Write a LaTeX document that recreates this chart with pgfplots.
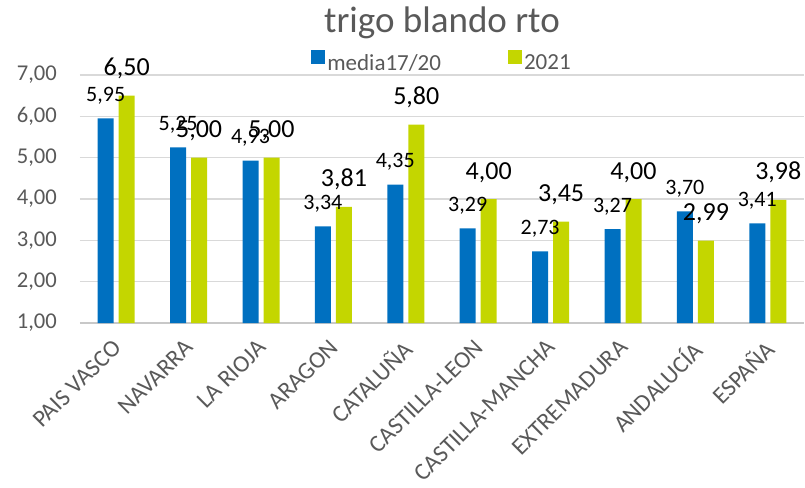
\documentclass[border=0pt]{standalone}
\usepackage{fontspec}
\setmainfont{Carlito}
\usepackage{pgfplots}
\pgfplotsset{compat=1.18}
\definecolor{cblue}{RGB}{0,112,192}
\definecolor{cgreen}{RGB}{196,214,0}
\definecolor{ctext}{RGB}{89,89,89}
\definecolor{cgrid}{RGB}{217,217,217}
\definecolor{caxis}{RGB}{200,200,200}
\begin{document}
\begin{tikzpicture}
\begin{axis}[
  scale only axis, width=724pt, height=248pt,
  xmin=-0.5, xmax=9.5, ymin=1, ymax=7,
  ytick={1,2,3,4,5,6,7},
  xtick={0,...,9},
  xticklabels={PAIS VASCO, NAVARRA, LA RIOJA, ARAGON, CATALUÑA, CASTILLA-LEON, CASTILLA-MANCHA, EXTREMADURA, ANDALUCÍA, ESPAÑA},
  x tick label style={rotate=45, anchor=north east, font=\fontsize{24}{28}\selectfont, text=ctext, inner sep=0pt, xshift=-14pt, yshift=-7pt},
  y tick label style={anchor=east, font=\fontsize{22.6}{27}\selectfont, text=ctext, inner sep=0pt, xshift=-23pt},
  /pgf/number format/fixed,
  /pgf/number format/fixed zerofill,
  /pgf/number format/precision=2,
  /pgf/number format/use comma,
  /pgf/number format/assume math mode=true,
  major tick length=0pt,
  axis x line=bottom, axis y line=left,
  x axis line style={-, draw=caxis, line width=1.3pt},
  y axis line style={draw=none},
  ymajorgrids, grid style={cgrid, line width=1.3pt},
  ybar, bar width=16pt,
  title={trigo blando rto},
  title style={font=\fontsize{37}{44}\selectfont, text=ctext, at={(0.5,1)}, anchor=base, yshift=36pt, inner sep=0pt},
  legend style={at={(0.5,1)}, anchor=south, yshift=1pt, draw=none, fill=none, font=\fontsize{23}{27}\selectfont, text=ctext, inner sep=0pt, /tikz/every even column/.append style={column sep=65pt}},
  legend columns=2,
  nodes near coords, point meta=y,
  clip=false,
]
\addplot[fill=cblue, draw=none, bar shift=-10.5pt,
  every node near coord/.append style={font=\fontsize{22}{26}\selectfont, text=black, anchor=base, yshift=17pt, inner sep=0pt},
  legend image code/.code={\fill[cblue] (0pt,-1pt) rectangle (14pt,13pt);}]
  coordinates {(0,5.95) (1,5.25) (2,4.93) (3,3.34) (4,4.35) (5,3.29) (6,2.73) (7,3.27) (8,3.70) (9,3.41)};
\addlegendentry{media17/20}
\addplot[fill=cgreen, draw=none, bar shift=10.5pt,
  every node near coord/.append style={font=\fontsize{26}{30}\selectfont, text=black, anchor=base, yshift=20pt, inner sep=0pt},
  legend image code/.code={\fill[cgreen] (0pt,-1pt) rectangle (14pt,13pt);}]
  coordinates {(0,6.50) (1,5.00) (2,5.00) (3,3.81) (4,5.80) (5,4.00) (6,3.45) (7,4.00) (8,2.99) (9,3.98)};
\addlegendentry{2021}
\coordinate (O) at (rel axis cs:0,0);
\end{axis}
\pgfresetboundingbox
\path[use as bounding box] ([shift={(-80pt,-164pt)}]O) rectangle ([shift={(725pt,323pt)}]O);
\end{tikzpicture}
\end{document}
